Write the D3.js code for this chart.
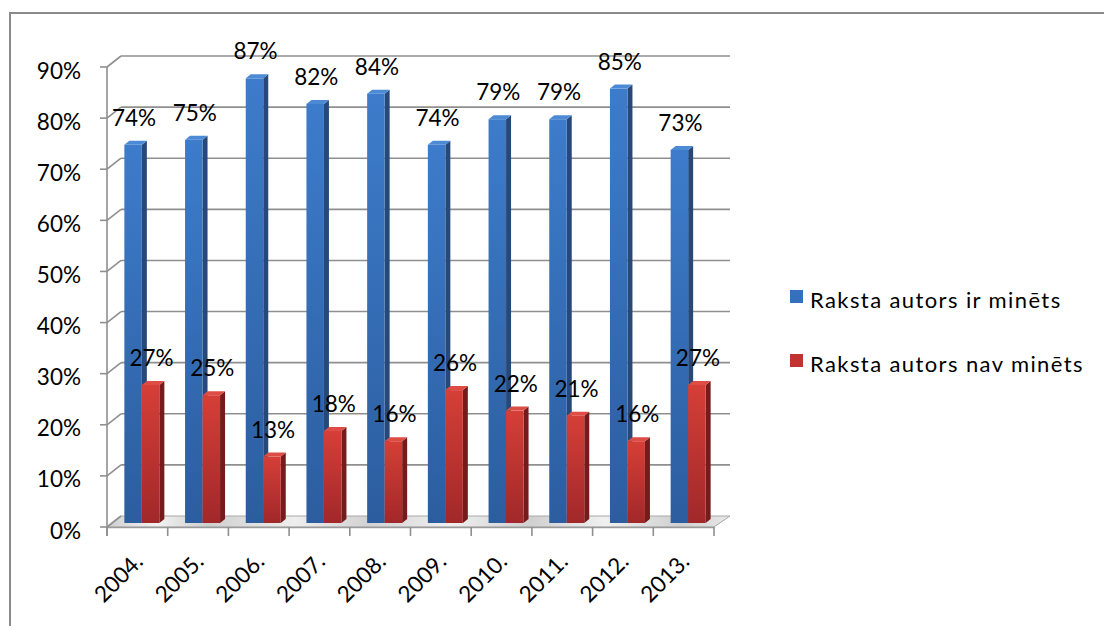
<!DOCTYPE html>
<html>
<head>
<meta charset="utf-8">
<script src="https://cdn.jsdelivr.net/npm/d3@7/dist/d3.min.js"></script>
<style>
  html, body { margin: 0; padding: 0; background: #fff; }
  svg { display: block; }
  text { font-family: Lato, "Noto Sans", sans-serif; fill: #000; }
</style>
</head>
<body>
<svg id="chart" width="1104" height="626"></svg>
<script>
const years = ["2004.", "2005.", "2006.", "2007.", "2008.", "2009.", "2010.", "2011.", "2012.", "2013."];
const mentioned = [74, 75, 87, 82, 84, 74, 79, 79, 85, 73];
const notMentioned = [27, 25, 13, 18, 16, 26, 22, 21, 16, 27];
const seriesNames = ["Raksta autors ir minēts", "Raksta autors nav minēts"];
const yTicks = [0, 10, 20, 30, 40, 50, 60, 70, 80, 90];

const svg = d3.select("#chart");
const defs = svg.append("defs");

// geometry
const X0 = 107, X1 = 714, Y0 = 527, Y90 = 67;
const DX = 14, DY = -11;          // wall depth
const BSX = 4.5, BSY = -4;        // bar depth position offset
const BW = 17.5, BDX = 5, BDY = -4; // bar width and bar depth

const x = d3.scaleBand().domain(years).range([X0, X1]).paddingInner(0).paddingOuter(0);
const y = d3.scaleLinear().domain([0, 90]).range([Y0, Y90]);

// gradients
function vgrad(id, top, bottom) {
  const g = defs.append("linearGradient").attr("id", id).attr("x1", 0).attr("y1", 0).attr("x2", 0).attr("y2", 1);
  g.append("stop").attr("offset", "0%").attr("stop-color", top);
  g.append("stop").attr("offset", "100%").attr("stop-color", bottom);
}
vgrad("blueFront", "#3d7ccb", "#2c5d9f");
vgrad("redFront", "#d53f37", "#a1282a");
const fg = defs.append("linearGradient").attr("id", "floorGrad").attr("x1", 0).attr("y1", 0).attr("x2", 1).attr("y2", 0);
[[0, "#cfcfcf"], [0.08, "#f2f2f2"], [0.16, "#cfcfcf"], [0.3, "#eeeeee"], [0.42, "#d2d2d2"], [0.55, "#f0f0f0"], [0.68, "#d0d0d0"], [0.8, "#f0f0f0"], [0.92, "#d0d0d0"], [1, "#e8e8e8"]]
  .forEach(([o, c]) => fg.append("stop").attr("offset", o).attr("stop-color", c));

// frame
svg.append("rect").attr("x", 10).attr("y", 13).attr("width", 1200).attr("height", 800)
  .attr("fill", "none").attr("stroke", "#8a8a8a").attr("stroke-width", 2);

const gridColor = "#8f8f8f";

// floor
svg.append("polygon")
  .attr("points", [[X0, Y0], [X1, Y0], [X1 + DX + 2, Y0 + DY], [X0 + DX, Y0 + DY]].map(p => p.join(",")).join(" "))
  .attr("fill", "url(#floorGrad)").attr("stroke", "#a8a8a8").attr("stroke-width", 1);
svg.append("line").attr("x1", X0).attr("x2", X1).attr("y1", Y0 + 0.5).attr("y2", Y0 + 0.5)
  .attr("stroke", "#9a9a9a").attr("stroke-width", 1.5);

// gridlines (back wall + side wall)
const grid = svg.append("g");
yTicks.forEach(v => {
  const yy = y(v);
  if (v > 0) {
    grid.append("line").attr("x1", X0 + DX).attr("x2", X1 + DX + 2).attr("y1", yy + DY).attr("y2", yy + DY)
      .attr("stroke", gridColor).attr("stroke-width", 1.6);
  }
  grid.append("line").attr("x1", X0).attr("x2", X0 + DX).attr("y1", yy).attr("y2", yy + DY)
    .attr("stroke", gridColor).attr("stroke-width", 1.6);
  grid.append("line").attr("x1", X0 - 7).attr("x2", X0).attr("y1", yy).attr("y2", yy)
    .attr("stroke", gridColor).attr("stroke-width", 1.6);
});
// vertical axis line
svg.append("line").attr("x1", X0).attr("x2", X0).attr("y1", y(90)).attr("y2", Y0 + 9)
  .attr("stroke", gridColor).attr("stroke-width", 1.6);

// x ticks at category boundaries
const bounds = years.map(c => x(c)).concat([X1]);
bounds.forEach(bx => {
  svg.append("line").attr("x1", bx).attr("x2", bx).attr("y1", Y0).attr("y2", Y0 + 9)
    .attr("stroke", gridColor).attr("stroke-width", 1.6);
});

// y tick labels
svg.append("g").selectAll("text").data(yTicks).join("text")
  .attr("x", 81).attr("y", d => y(d) + 11.5)
  .attr("text-anchor", "end").attr("font-size", 22.5)
  .text(d => d + "%");

// x labels
svg.append("g").selectAll("text").data(years).join("text")
  .attr("transform", d => `translate(${x(d) + x.bandwidth() / 2 + 7},${563}) rotate(-45)`)
  .attr("text-anchor", "end").attr("font-size", 22.5)
  .text(d => d);

// bars
const series = [
  { values: mentioned, front: "url(#blueFront)", side: "#27497a", top: "#4d8ad6", off: -BW },
  { values: notMentioned, front: "url(#redFront)", side: "#761b1b", top: "#de4d45", off: 0 }
];
const yb = v => y(v) + BSY;
const barsG = svg.append("g");
years.forEach((c, i) => {
  const cx = x(c) + x.bandwidth() / 2 + BSX;
  series.forEach(s => {
    const v = s.values[i];
    const bx = cx + s.off, top = yb(v), bot = yb(0);
    barsG.append("polygon")
      .attr("points", [[bx + BW, top], [bx + BW + BDX, top + BDY], [bx + BW + BDX, bot + BDY], [bx + BW, bot]].map(p => p.join(",")).join(" "))
      .attr("fill", s.side);
    barsG.append("rect").attr("x", bx).attr("y", top).attr("width", BW).attr("height", bot - top)
      .attr("fill", s.front);
    barsG.append("polygon")
      .attr("points", [[bx, top], [bx + BDX, top + BDY], [bx + BW + BDX, top + BDY], [bx + BW, top]].map(p => p.join(",")).join(" "))
      .attr("fill", s.top);
  });
});

// data labels
const labG = svg.append("g");
years.forEach((c, i) => {
  const cx = x(c) + x.bandwidth() / 2 + BSX;
  series.forEach(s => {
    const v = s.values[i];
    labG.append("text")
      .attr("x", cx + s.off + BW / 2 + 1)
      .attr("y", yb(v) + BDY - 15)
      .attr("text-anchor", "middle").attr("font-size", 22.5)
      .text(v + "%");
  });
});

// legend
const legend = svg.append("g");
const legColors = ["#3570bd", "#c2332f"];
seriesNames.forEach((n, i) => {
  const ly = 290 + i * 64;
  legend.append("rect").attr("x", 790).attr("y", ly).attr("width", 13).attr("height", 13)
    .attr("fill", legColors[i]);
  legend.append("text").attr("x", 810).attr("y", ly + 18).attr("font-size", 22)
    .attr("letter-spacing", 1.4).text(n);
});
</script>
</body>
</html>
